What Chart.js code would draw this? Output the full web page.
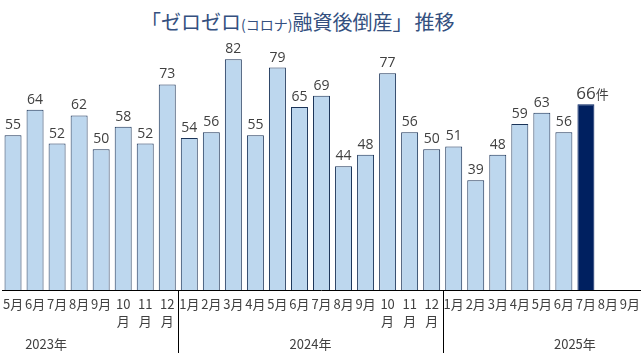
<!DOCTYPE html>
<html lang="ja">
<head>
<meta charset="utf-8">
<script src="https://cdn.jsdelivr.net/npm/chart.js@4.4.0/dist/chart.umd.min.js"></script>
<style>
  html, body { margin: 0; padding: 0; background: #fff; overflow: hidden; }
  #titulo {
    position: absolute; left: 141px; top: 12px;
    font-family: "Noto Sans CJK JP", sans-serif; font-size: 20px; line-height: 1;
    color: #34507f; white-space: nowrap; font-weight: normal;
  }
  #titulo .pequeno { font-size: 14px; }
  #titulo .espaco { margin-left: 2px; }
  #grafico { position: absolute; left: -3px; top: 0; }
</style>
</head>
<body>
<div id="titulo">「ゼロゼロ<span class="pequeno">(コロナ)</span>融資後倒産」<span class="espaco">推移</span></div>
<canvas id="grafico" width="649" height="362"></canvas>
<script>
// meses de mai/2023 a set/2025
const meses = [
  '5月', '6月', '7月', '8月', '9月', ['10', '月'], ['11', '月'], ['12', '月'],
  '1月', '2月', '3月', '4月', '5月', '6月', '7月', '8月', '9月', ['10', '月'], ['11', '月'], ['12', '月'],
  '1月', '2月', '3月', '4月', '5月', '6月', '7月', '8月', '9月'
];
const valores = [
  55, 64, 52, 62, 50, 58, 52, 73,
  54, 56, 82, 55, 79, 65, 69, 44, 48, 77, 56, 50,
  51, 39, 48, 59, 63, 56, 66, null, null
];
const anos = ['2023年', '2024年', '2025年'];
// índice do mês de janeiro de cada ano (2023 começa antes do recorte)
const inicioAno = [-4, 8, 20];
const destaque = 26;   // jul/2025
const unidade = '件';

const corClara = '#bdd7ee';
const corEscura = '#002060';
const corBorda = '#1a3358';
const corTexto = '#404040';

const rotulos = {
  id: 'rotulos',
  afterDatasetsDraw(chart) {
    const ctx = chart.ctx;
    const meta = chart.getDatasetMeta(0);
    ctx.save();
    ctx.fillStyle = corTexto;
    ctx.textBaseline = 'alphabetic';
    meta.data.forEach((barra, i) => {
      const v = valores[i];
      if (v == null) return;
      if (i === destaque) {
        ctx.font = '17px "Open Sans", sans-serif';
        ctx.textAlign = 'center';
        ctx.fillText(String(v), barra.x, barra.y - 5);
        const w = ctx.measureText(String(v)).width;
        ctx.font = '13px "Noto Sans CJK JP", sans-serif';
        ctx.textAlign = 'left';
        ctx.fillText(unidade, barra.x + w / 2, barra.y - 5);
      } else {
        ctx.font = '14px "Open Sans", sans-serif';
        ctx.textAlign = 'center';
        ctx.fillText(String(v), barra.x, barra.y - 6);
      }
    });
    ctx.restore();
  },
  afterDraw(chart) {
    const ctx = chart.ctx;
    const x = chart.scales.x;
    const base = chart.chartArea.bottom;
    ctx.save();
    // separadores entre os anos
    ctx.strokeStyle = '#000';
    ctx.lineWidth = 1;
    [inicioAno[1], inicioAno[2]].forEach(j => {
      const px = Math.round((x.getPixelForValue(j - 1) + x.getPixelForValue(j)) / 2) + 0.5;
      ctx.beginPath();
      ctx.moveTo(px, base);
      ctx.lineTo(px, 353);
      ctx.stroke();
    });
    // anos centralizados no ano inteiro
    ctx.fillStyle = corTexto;
    ctx.font = '13px "Noto Sans CJK JP", sans-serif';
    ctx.textAlign = 'center';
    ctx.textBaseline = 'middle';
    anos.forEach((ano, k) => {
      const ini = inicioAno[k];
      const cx = (x.getPixelForValue(ini) + x.getPixelForValue(ini + 11)) / 2;
      ctx.fillText(ano, cx, 344);
    });
    ctx.restore();
  }
};

const ctx = document.getElementById('grafico').getContext('2d');

new Chart(ctx, {
  type: 'bar',
  data: {
    labels: meses,
    datasets: [{
      data: valores,
      backgroundColor: valores.map((v, i) => i === destaque ? corEscura : corClara),
      borderColor: valores.map((v, i) => i === destaque ? corEscura : corBorda),
      borderWidth: 1,
      barPercentage: 0.77,
      categoryPercentage: 1
    }]
  },
  options: {
    responsive: false,
    animation: false,
    layout: { padding: { top: 31, left: 0, right: 0, bottom: 0 } },
    plugins: {
      legend: { display: false },
      tooltip: { enabled: false },
      title: { display: false }
    },
    scales: {
      x: {
        grid: { display: false, drawTicks: false },
        border: { display: true, color: '#000', width: 1 },
        ticks: {
          color: corTexto,
          padding: 6,
          maxRotation: 0,
          autoSkip: false,
          font: { family: '"Noto Sans CJK JP"', size: 13, lineHeight: 1.3 }
        },
        afterFit(axis) { axis.height = 72; }
      },
      y: {
        display: false,
        min: 0,
        max: 92
      }
    }
  },
  plugins: [rotulos]
});
</script>
</body>
</html>
